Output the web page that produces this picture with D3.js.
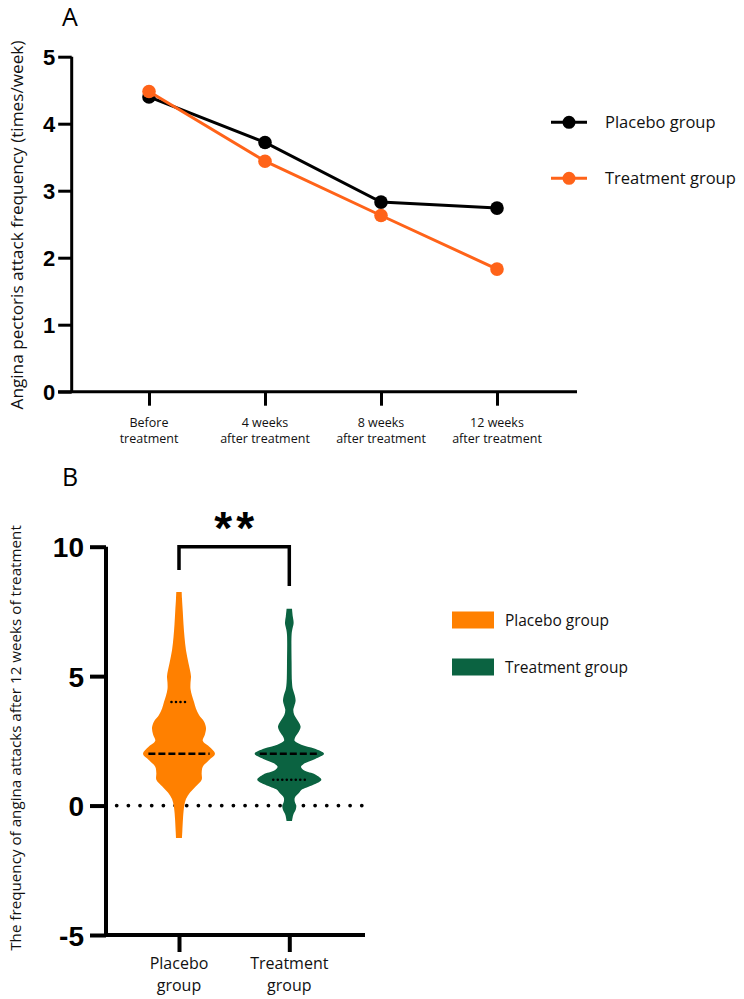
<!DOCTYPE html>
<html><head><meta charset="utf-8">
<script src="https://cdn.jsdelivr.net/npm/d3@7"></script>
<style>body{margin:0;background:#fff}svg{display:block}</style>
</head><body>
<script>
// ---------- Panel A data ----------
const timepoints = ["Before|treatment", "4 weeks|after treatment", "8 weeks|after treatment", "12 weeks|after treatment"];
const placeboFreq = [4.40, 3.72, 2.83, 2.74];
const treatmentFreq = [4.48, 3.44, 2.63, 1.83];
const yTicksA = [0, 1, 2, 3, 4, 5];
const seriesNamesA = ["Placebo group", "Treatment group"];

// ---------- Panel B data ----------
const groupsB = ["Placebo|group", "Treatment|group"];
const yTicksB = [-5, 0, 5, 10];
// violin profiles: [value, relative density]
const placeboViolin = [
  [8.25,.075],[8.0,.083],[7.5,.105],[7.0,.125],[6.5,.153],[6.0,.194],[5.5,.264],[5.0,.333],
  [4.75,.32],[4.5,.32],[4.25,.36],[4.0,.417],[3.75,.47],[3.5,.556],[3.25,.694],[3.0,.75],
  [2.75,.72],[2.5,.66],[2.25,.86],[2.0,1.0],[1.75,.83],[1.5,.66],[1.25,.63],[1.0,.63],
  [0.75,.47],[0.5,.306],[0.25,.194],[0.0,.147],[-0.25,.125],[-0.5,.111],[-1.0,.092],[-1.25,.083]
];
const treatmentViolin = [
  [7.6,.075],[7.3,.097],[7.05,.12],[6.8,.083],[6.6,.064],[5.5,.064],[4.75,.075],[4.5,.097],
  [4.25,.153],[4.05,.175],[3.85,.139],[3.7,.111],[3.5,.139],[3.25,.25],[3.05,.314],[2.85,.264],
  [2.65,.167],[2.5,.147],[2.35,.333],[2.2,.694],[2.0,.964],[1.8,.72],[1.6,.39],[1.5,.325],
  [1.35,.417],[1.2,.72],[1.0,.89],[0.8,.667],[0.6,.333],[0.5,.278],[0.3,.153],[0.15,.153],
  [0.0,.194],[-0.15,.18],[-0.35,.111],[-0.6,.075]
];
const medians = [2, 2];
const lowerQuartiles = [2, 1];
const upperQuartiles = [4, 2];
const seriesNamesB = ["Placebo group", "Treatment group"];
const significance = "**";

const W = 744, H = 999;
const svg = d3.select("body").append("svg").attr("width", W).attr("height", H);
const labelFont = "'Open Sans', 'Noto Sans', sans-serif";
const tickFont = "'Liberation Sans', Arial, sans-serif";

// ================= PANEL A =================
const colA = ["#000000", "#ff6319"];
const xA = d3.scalePoint().domain(timepoints).range([149, 497]);
const yA = d3.scaleLinear().domain([0, 5]).range([391.7, 56.7]);
const gA = svg.append("g");

gA.append("text").attr("x", 62).attr("y", 26).text("A")
  .attr("font-family", labelFont).attr("font-size", 25).attr("fill", "#000");

// y axis
const yAxisA = d3.axisLeft(yA).tickValues(yTicksA).tickSize(13.5).tickPadding(3).tickFormat(d => String(d));
const gyA = gA.append("g").attr("transform", "translate(71.7,0)").call(yAxisA);
gyA.select(".domain").attr("d", `M0,${yA(0)}V${yA(5)}`).attr("stroke-width", 3);
gyA.selectAll(".tick line").attr("stroke-width", 3);
gyA.selectAll(".tick text").attr("font-family", tickFont).attr("font-weight", "bold").attr("font-size", 22).attr("dy", "0.36em");

// x axis
const xAxisA = d3.axisBottom(xA).tickSize(14).tickFormat("");
const gxA = gA.append("g").attr("transform", `translate(0,${yA(0)})`).call(xAxisA);
gxA.select(".domain").attr("d", "M58,0H577").attr("stroke-width", 3);
gxA.selectAll(".tick line").attr("stroke-width", 3);
timepoints.forEach(t => {
  const parts = t.split("|");
  parts.forEach((p, i) => {
    gA.append("text").attr("x", xA(t)).attr("y", 426.5 + i * 16).attr("text-anchor", "middle")
      .attr("font-family", labelFont).attr("font-size", 12.5).attr("fill", "#111").text(p);
  });
});

// y label
gA.append("text").attr("transform", "translate(23,225) rotate(-90)").attr("text-anchor", "middle")
  .attr("font-family", labelFont).attr("font-size", 17.2).attr("fill", "#111")
  .text("Angina pectoris attack frequency (times/week)");

// lines
const lineA = d3.line().x((d, i) => xA(timepoints[i])).y(d => yA(d));
[placeboFreq, treatmentFreq].forEach((s, k) => {
  gA.append("path").attr("d", lineA(s)).attr("fill", "none").attr("stroke", colA[k]).attr("stroke-width", 3);
  gA.selectAll(null).data(s).enter().append("circle")
    .attr("cx", (d, i) => xA(timepoints[i])).attr("cy", d => yA(d)).attr("r", 6.8).attr("fill", colA[k]);
});

// legend A
seriesNamesA.forEach((n, k) => {
  const y = 122.3 + k * 56;
  gA.append("line").attr("x1", 551).attr("x2", 587).attr("y1", y).attr("y2", y).attr("stroke", colA[k]).attr("stroke-width", 3);
  gA.append("circle").attr("cx", 569).attr("cy", y).attr("r", 6.5).attr("fill", colA[k]);
  gA.append("text").attr("x", 605).attr("y", y + 6).attr("font-family", labelFont).attr("font-size", 16.5).attr("fill", "#111").text(n);
});

// ================= PANEL B =================
const colB = ["#ff8000", "#0b6341"];
const xB = d3.scalePoint().domain(groupsB).range([179, 289.3]);
const yB = d3.scaleLinear().domain([-5, 10]).range([935, 546.7]);
const wB = d3.scaleLinear().domain([0, 1]).range([0, 36]);
const gB = svg.append("g");

gB.append("text").attr("x", 62).attr("y", 486).text("B")
  .attr("font-family", labelFont).attr("font-size", 25).attr("fill", "#000");

// zero dotted line (behind violins)
gB.append("line").attr("x1", 116.7).attr("x2", 364).attr("y1", yB(0)).attr("y2", yB(0))
  .attr("stroke", "#000").attr("stroke-width", 3.8).attr("stroke-linecap", "round").attr("stroke-dasharray", "0,11.67");

// violins
[placeboViolin, treatmentViolin].forEach((v, k) => {
  const cx = xB(groupsB[k]);
  const area = d3.area().curve(d3.curveCatmullRom.alpha(0.5))
    .y(d => yB(d[0])).x0(d => cx - wB(d[1])).x1(d => cx + wB(d[1]));
  gB.append("path").attr("d", area(v)).attr("fill", colB[k]);
});

function localDensity(v, val) {
  for (let i = 0; i < v.length - 1; i++) {
    const a = v[i], b = v[i + 1];
    if ((val <= a[0] && val >= b[0])) {
      const t = (a[0] - val) / (a[0] - b[0]);
      return a[1] + t * (b[1] - a[1]);
    }
  }
  return 0;
}
[placeboViolin, treatmentViolin].forEach((v, k) => {
  const cx = xB(groupsB[k]);
  [lowerQuartiles[k], upperQuartiles[k]].forEach(q => {
    if (q === medians[k]) return;
    const hw = wB(localDensity(v, q)) * 0.5;
    gB.append("line").attr("x1", cx - hw).attr("x2", cx + hw).attr("y1", yB(q)).attr("y2", yB(q))
      .attr("stroke", "#000").attr("stroke-width", 2.6).attr("stroke-linecap", "round").attr("stroke-dasharray", "0,4.5");
  });
  const hm = wB(localDensity(v, medians[k])) * 0.85;
  gB.append("line").attr("x1", cx - hm).attr("x2", cx + hm).attr("y1", yB(medians[k])).attr("y2", yB(medians[k]))
    .attr("stroke", "#000").attr("stroke-width", 2.6).attr("stroke-dasharray", "7,3");
});

// axes B
const yAxisB = d3.axisLeft(yB).tickValues(yTicksB).tickSize(16).tickPadding(6).tickFormat(d => String(d));
const gyB = gB.append("g").attr("transform", "translate(106,0)").call(yAxisB);
gyB.select(".domain").attr("d", `M0,${yB(-5) + 2}V${yB(10)}`).attr("stroke-width", 4);
gyB.selectAll(".tick line").attr("stroke-width", 4);
gyB.selectAll(".tick text").attr("font-family", tickFont).attr("font-weight", "bold").attr("font-size", 28).attr("dy", "0.36em");

const xAxisB = d3.axisBottom(xB).tickSize(17).tickFormat("");
const gxB = gB.append("g").attr("transform", `translate(0,${yB(-5)})`).call(xAxisB);
gxB.select(".domain").attr("d", "M104,0H365").attr("stroke-width", 4);
gxB.selectAll(".tick line").attr("stroke-width", 4);
groupsB.forEach(g => {
  g.split("|").forEach((p, i) => {
    gB.append("text").attr("x", xB(g)).attr("y", 969 + i * 22).attr("text-anchor", "middle")
      .attr("font-family", labelFont).attr("font-size", 16).attr("fill", "#111").text(p);
  });
});

gB.append("text").attr("transform", "translate(21,738) rotate(-90)").attr("text-anchor", "middle")
  .attr("font-family", labelFont).attr("font-size", 15.2).attr("fill", "#111")
  .text("The frequency of angina attacks after 12 weeks of treatment");

// significance bracket
const x1 = xB(groupsB[0]), x2 = xB(groupsB[1]), yb = yB(10);
gB.append("path").attr("d", `M${x1},570V${yb}H${x2}V586`).attr("fill", "none").attr("stroke", "#000").attr("stroke-width", 3.5);
gB.append("text").attr("x", (x1 + x2) / 2 + 2).attr("y", 544).attr("text-anchor", "middle")
  .attr("font-family", tickFont).attr("font-weight", "bold").attr("font-size", 46).attr("letter-spacing", 4).text(significance);

// legend B
seriesNamesB.forEach((n, k) => {
  const y = 620 + k * 47;
  gB.append("rect").attr("x", 452).attr("y", y - 8.5).attr("width", 42).attr("height", 17).attr("fill", colB[k]);
  gB.append("text").attr("x", 505).attr("y", y + 5.5).attr("font-family", labelFont).attr("font-size", 15.5).attr("fill", "#111").text(n);
});
</script>
</body></html>
